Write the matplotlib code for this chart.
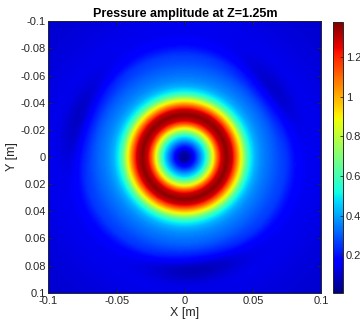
import numpy as np
import matplotlib
matplotlib.use("Agg")
import matplotlib.pyplot as plt

plt.rcParams['font.family'] = ['Liberation Sans', 'DejaVu Sans']

# Radial profile of pressure amplitude
radius_m = [0.000, 0.004, 0.008, 0.012, 0.015, 0.018, 0.021, 0.024, 0.027, 0.031,
            0.035, 0.038, 0.042, 0.045, 0.048, 0.052, 0.056, 0.060, 0.065, 0.070,
            0.075, 0.080, 0.085, 0.090, 0.100, 0.120, 0.150]
amplitude = [0.02, 0.08, 0.22, 0.38, 0.50, 0.68, 0.88, 1.10, 1.28, 1.36,
             1.28, 1.10, 0.86, 0.66, 0.52, 0.42, 0.37, 0.34, 0.31, 0.28,
             0.26, 0.21, 0.17, 0.15, 0.14, 0.12, 0.10]

# Faint darker arcs (radius, angle in degrees, depth)
arc_radius = [0.080, 0.079, 0.081]
arc_angle_deg = [-160, -38, 84]
arc_depth = [0.10, 0.10, 0.11]
arc_radial_width = [0.007, 0.007, 0.007]
arc_angular_width_deg = [20, 18, 20]

x_ticks = [-0.1, -0.05, 0, 0.05, 0.1]
x_labels = ['-0.1', '-0.05', '0', '0.05', '0.1']
y_ticks = [-0.1, -0.08, -0.06, -0.04, -0.02, 0, 0.02, 0.04, 0.06, 0.08, 0.1]
y_labels = ['-0.1', '-0.08', '-0.06', '-0.04', '-0.02', '0', '0.02', '0.04', '0.06', '0.08', '0.1']
cbar_ticks = [0.2, 0.4, 0.6, 0.8, 1.0, 1.2]
cbar_labels = ['0.2', '0.4', '0.6', '0.8', '1', '1.2']
clim = (0.01, 1.375)

n = 301
xs = np.linspace(-0.1, 0.1, n)
X, Y = np.meshgrid(xs, xs)
R = np.hypot(X, Y)
TH = np.degrees(np.arctan2(Y, X))
P = np.interp(R, radius_m, amplitude)
for ar, aa, d, rw, aw in zip(arc_radius, arc_angle_deg, arc_depth,
                             arc_radial_width, arc_angular_width_deg):
    dth = (TH - aa + 180) % 360 - 180
    P = P - d * np.exp(-((R - ar) ** 2) / (2 * rw ** 2) - dth ** 2 / (2 * aw ** 2))

fig = plt.figure(figsize=(3.6, 3.26), dpi=100)
ax = fig.add_axes([0.1347, 0.102, 0.758, 0.833])
im = ax.imshow(P, cmap='jet', vmin=clim[0], vmax=clim[1], origin='upper',
               extent=[-0.1, 0.1, 0.1, -0.1], interpolation='bilinear', aspect='auto')
ax.set_xlim(-0.1, 0.1)
ax.set_ylim(0.1, -0.1)
tc = '#262626'
ax.set_xticks(x_ticks)
ax.set_xticklabels(x_labels)
ax.set_yticks(y_ticks)
ax.set_yticklabels(y_labels)
ax.tick_params(direction='in', top=True, right=True, length=3, width=0.6,
               labelsize=8, colors=tc, pad=2)
for sp in ax.spines.values():
    sp.set_color(tc)
    sp.set_linewidth(0.7)
ax.set_xlabel('X [m]', fontsize=9, color=tc, labelpad=1)
ax.set_ylabel('Y [m]', fontsize=9, color=tc, labelpad=2)
ax.set_title('Pressure amplitude at Z=1.25m', fontsize=9, fontweight='bold', pad=3)

cax = fig.add_axes([0.925, 0.101, 0.028, 0.831])
cb = fig.colorbar(im, cax=cax, ticks=cbar_ticks)
cb.set_ticklabels(cbar_labels)
cb.ax.tick_params(direction='in', length=2, width=0.6, labelsize=8, colors=tc, pad=2)
cb.outline.set_edgecolor(tc)
cb.outline.set_linewidth(0.7)

fig.savefig('out.png', dpi=100)
